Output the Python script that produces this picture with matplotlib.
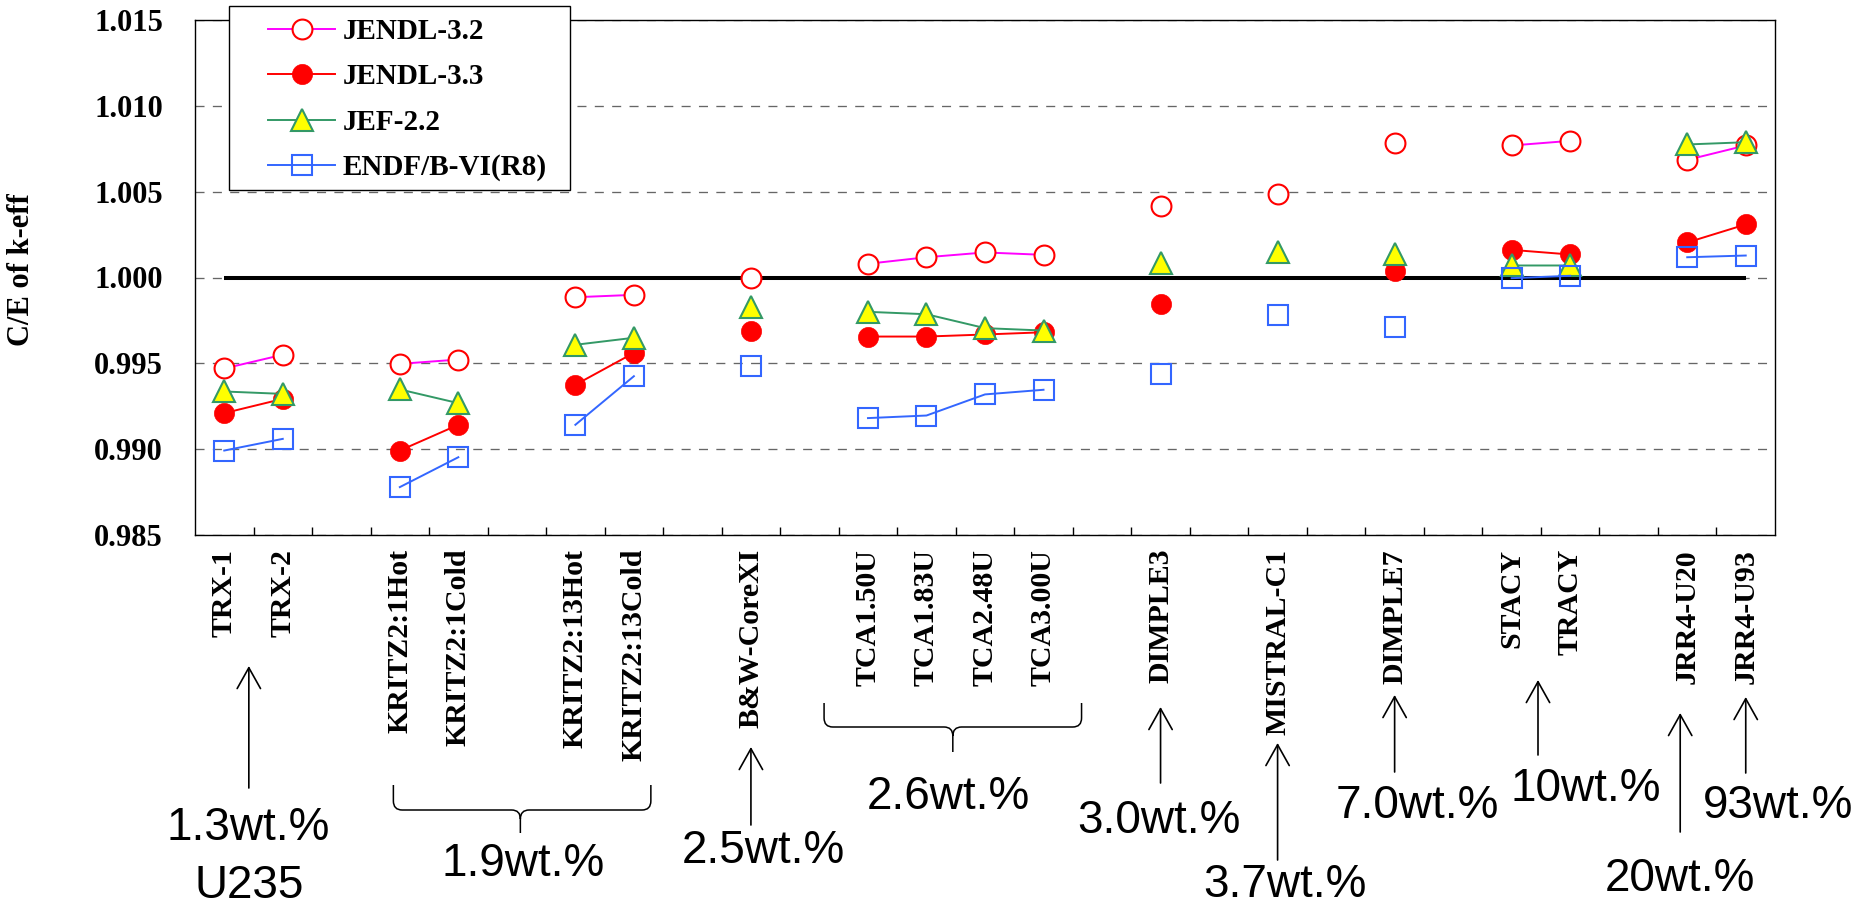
import numpy as np
import matplotlib
matplotlib.use('Agg')
import matplotlib.pyplot as plt
import matplotlib.transforms as mtrans
from matplotlib.path import Path
from matplotlib.patches import PathPatch, Rectangle
from matplotlib.ticker import FormatStrFormatter

####################################################
## data : C/E of k-eff, blank categories separate the groups

nan = np.nan

cats = ['TRX-1', 'TRX-2', '',
        'KRITZ2:1Hot', 'KRITZ2:1Cold', '',
        'KRITZ2:13Hot', 'KRITZ2:13Cold', '',
        'B&W-CoreXI', '',
        'TCA1.50U', 'TCA1.83U', 'TCA2.48U', 'TCA3.00U', '',
        'DIMPLE3', '', 'MISTRAL-C1', '', 'DIMPLE7', '',
        'STACY', 'TRACY', '',
        'JRR4-U20', 'JRR4-U93']

jendl32 = [0.99470, 0.99550, nan, 0.99497, 0.99522, nan, 0.99885, 0.99899, nan,
           0.99998, nan, 1.00080, 1.00118, 1.00146, 1.00132, nan,
           1.00415, nan, 1.00485, nan, 1.00782, nan, 1.00769, 1.00796, nan,
           1.00685, 1.00769]

jendl33 = [0.99210, 0.99293, nan, 0.98992, 0.99142, nan, 0.99375, 0.99561, nan,
           0.99686, nan, 0.99656, 0.99656, 0.99668, 0.99681, nan,
           0.99847, nan, nan, nan, 1.00037, nan, 1.00161, 1.00134, nan,
           1.00204, 1.00309]

jef22 = [0.99336, 0.99322, nan, 0.99348, 0.99268, nan, 0.99608, 0.99649, nan,
         0.99827, nan, 0.99800, 0.99786, 0.99705, 0.99691, nan,
         1.00083, nan, 1.00147, nan, 1.00138, nan, 1.00070, 1.00070, nan,
         1.00775, 1.00788]

endf = [0.98992, 0.99060, nan, 0.98779, 0.98953, nan, 0.99142, 0.99425, nan,
        0.99482, nan, 0.99181, 0.99196, 0.99319, 0.99346, nan,
        0.99439, nan, 0.99779, nan, 0.99711, nan, 0.99996, 1.00010, nan,
        1.00118, 1.00128]

## enrichment notes under the axis
notes = ['1.3wt.%', 'U235', '1.9wt.%', '2.5wt.%', '2.6wt.%', '3.0wt.%',
         '3.7wt.%', '7.0wt.%', '10wt.%', '20wt.%', '93wt.%']

####################################################
## figure

plt.rcParams['font.family'] = ['Liberation Serif', 'DejaVu Serif']
plt.rcParams['lines.scale_dashes'] = False

W, H = 1876, 909
fig = plt.figure(figsize=(W/100, H/100), dpi=100)
ax = fig.add_axes([195/W, 1-535/H, 1580/W, 515/H])

x = np.arange(len(cats))

## reference line at C/E = 1
ax.plot([x[0], x[-1]], [1.0, 1.0], color='black', lw=2.9, zorder=2,
        solid_capstyle='butt')

l1, = ax.plot(x, jendl32, color='#FF00FF', lw=1.4, marker='o', ms=14.3,
              mfc='white', mec='#FF0000', mew=1.5, zorder=3)
l2, = ax.plot(x, jendl33, color='#FF0000', lw=1.4, marker='o', ms=14.5,
              mfc='#FF0000', mec='#FF0000', mew=0.5, zorder=3)
l3, = ax.plot(x, jef22, color='#339966', lw=1.4, marker='^', ms=16,
              mfc='#FFFF00', mec='#339966', mew=1.5, zorder=3)
l4, = ax.plot(x, endf, color='#3366FF', lw=1.4, marker='s', ms=14,
              mfc='none', mec='#3366FF', mew=1.5, zorder=3)

ax.set_xlim(-0.5, len(cats)-0.5)
ax.set_ylim(0.985, 1.015)
ax.set_yticks(np.arange(0.985, 1.0151, 0.005))
ax.yaxis.set_major_formatter(FormatStrFormatter('%.3f'))
ax.set_axisbelow(True)
ax.yaxis.grid(True, color='#666666', lw=0.95, linestyle=(0, (6.5, 6.0)))

ax.set_xticks(x)
ax.set_xticklabels(cats, rotation=90, fontsize=21.5, fontweight='bold')
ax.set_xticks(x[:-1] + 0.5, minor=True)
ax.tick_params(axis='x', which='major', length=0, pad=10)
ax.tick_params(axis='x', which='minor', direction='in', length=5.8, width=1.0)
ax.tick_params(axis='y', length=0, pad=23, labelsize=22)
for t in ax.get_yticklabels():
    t.set_fontweight('bold')

for s in ax.spines.values():
    s.set_linewidth(1.0)

ax.set_ylabel('C/E of k-eff', fontsize=22, fontweight='bold')
ax.yaxis.set_label_coords(-0.1006, 0.515)

## legend box (sits above the top spine)
frame = Rectangle((229/W, 1-190/H), (570-229)/W, (190-6)/H,
                  transform=fig.transFigure, fc='white', ec='black', lw=1.0,
                  zorder=5)
fig.add_artist(frame)
leg = fig.legend([l1, l2, l3, l4],
                 ['JENDL-3.2', 'JENDL-3.3', 'JEF-2.2', 'ENDF/B-VI(R8)'],
                 loc='upper left', bbox_to_anchor=(268/W, 1-18/H),
                 bbox_transform=fig.transFigure, frameon=False,
                 prop=dict(family='Liberation Serif', weight='bold', size=21),
                 handlelength=2.3, handletextpad=0.25, labelspacing=0.63,
                 borderpad=0, borderaxespad=0)
leg.set_zorder(6)

####################################################
## notes, arrows and braces below the axis (x in categories, y in figure)

tr = mtrans.blended_transform_factory(ax.transData, fig.transFigure)

def fy(py):
    return 1 - py/H

note_pos = [(0.41, 828), (0.42, 886), (5.10, 864), (9.21, 851), (12.38, 797),
            (15.97, 821), (18.13, 885), (20.39, 806), (23.27, 789),
            (24.88, 879), (26.55, 806)]
for txt, (nx, ny) in zip(notes, note_pos):
    ax.text(nx, fy(ny), txt, transform=tr, ha='center', va='center',
            fontsize=33, family='Liberation Sans', clip_on=False)

arrows = [(0.42, 788, 666), (9.0, 825, 747), (16.0, 783, 707),
          (18.0, 860, 743), (20.0, 772, 695), (22.45, 755, 680),
          (24.88, 832, 713), (26.0, 773, 697)]
for ax_x, tail, head in arrows:
    ax.annotate('', xy=(ax_x, fy(head)), xytext=(ax_x, fy(tail)),
                xycoords=tr, textcoords=tr, annotation_clip=False,
                arrowprops=dict(arrowstyle='->,head_length=0.75,head_width=0.42',
                                lw=1.2, color='black', shrinkA=0, shrinkB=0,
                                mutation_scale=20))

def brace(x0, x1, xm, top, mid, tip):
    dx = 0.15
    dy = 9/H
    yt, ym, yp = fy(top), fy(mid), fy(tip)
    verts = [(x0, yt), (x0, ym+dy), (x0, ym), (x0+dx, ym),
             (xm-dx, ym), (xm, ym), (xm, ym-dy), (xm, yp),
             (xm, ym-dy), (xm, ym), (xm+dx, ym), (x1-dx, ym),
             (x1, ym), (x1, ym+dy), (x1, yt)]
    codes = [Path.MOVETO, Path.LINETO, Path.CURVE3, Path.CURVE3,
             Path.LINETO, Path.CURVE3, Path.CURVE3, Path.LINETO,
             Path.MOVETO, Path.CURVE3, Path.CURVE3, Path.LINETO,
             Path.CURVE3, Path.CURVE3, Path.LINETO]
    p = PathPatch(Path(verts, codes), transform=tr, fc='none', ec='black',
                  lw=1.1, clip_on=False)
    ax.add_patch(p)

brace(2.89, 7.29, 5.06, 785, 810, 833)
brace(10.25, 14.65, 12.45, 703, 727, 752)

fig.savefig('out.png', dpi=100)
